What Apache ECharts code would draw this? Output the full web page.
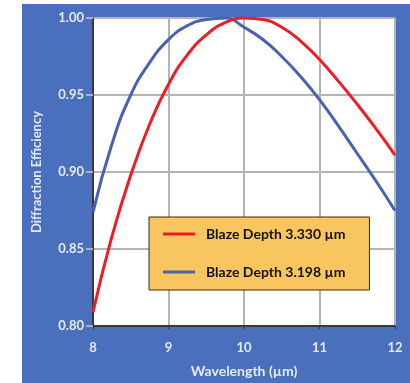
<!DOCTYPE html>
<html>
<head>
<meta charset="utf-8">
<script src="https://cdn.jsdelivr.net/npm/echarts@6/dist/echarts.min.js"></script>
<style>
html, body { margin: 0; padding: 0; background: #fff; }
#chart { width: 410px; height: 383px; }
</style>
</head>
<body>
<div id="chart"></div>
<script>
// wavelength samples (um)
var wavelengths = [8.0, 8.25, 8.5, 8.75, 9.0, 9.25, 9.5, 9.75, 10.0, 10.25, 10.5, 10.75, 11.0, 11.25, 11.5, 11.75, 12.0];
// blaze depth 3.330 um
var depth3330 = [0.809, 0.858, 0.898, 0.931, 0.957, 0.976, 0.989, 0.997, 1.000, 0.999, 0.994, 0.985, 0.973, 0.959, 0.944, 0.928, 0.911];
// blaze depth 3.198 um
var depth3198 = [0.874, 0.918, 0.950, 0.971, 0.986, 0.995, 0.999, 1.000, 0.994, 0.986, 0.975, 0.962, 0.947, 0.930, 0.912, 0.894, 0.875];
var seriesNames = ['Blaze Depth 3.330 µm', 'Blaze Depth 3.198 µm'];

function pairs(xs, ys) {
    var out = [];
    for (var i = 0; i < xs.length; i++) {
        out.push([xs[i], ys[i]]);
    }
    return out;
}

var myChart = echarts.init(document.getElementById('chart'));
var labelColor = '#e4ebf7';
var font = 'Lato, "DejaVu Sans", sans-serif';

var option = {
    animation: false,
    textStyle: { fontFamily: font },
    graphic: [{
        type: 'rect',
        z: -10,
        shape: { x: 22, y: 4, width: 388, height: 379 },
        style: { fill: '#4a6fbd' }
    }],
    grid: {
        left: 93, top: 18, right: 15, bottom: 56,
        show: true,
        backgroundColor: '#fff',
        borderColor: '#333',
        borderWidth: 1
    },
    legend: {
        left: 149, top: 217,
        orient: 'vertical',
        data: seriesNames,
        backgroundColor: '#f9c55f',
        borderColor: '#3a2a10',
        borderWidth: 1,
        padding: [10, 24, 11, 14],
        itemGap: 24,
        itemWidth: 32,
        itemHeight: 3,
        icon: 'rect',
        textStyle: {
            fontFamily: font,
            fontWeight: 'bold',
            fontSize: 14,
            color: '#111',
            padding: [0, 0, 0, 6]
        }
    },
    xAxis: {
        type: 'value',
        min: 8, max: 12, interval: 1,
        name: 'Wavelength (µm)',
        nameLocation: 'middle',
        nameGap: 38,
        nameTextStyle: { color: labelColor, fontSize: 14, fontWeight: 'bold' },
        axisLine: { show: true, onZero: false, lineStyle: { color: '#111', width: 1.5 } },
        axisTick: { show: true, length: 3, lineStyle: { color: '#333' } },
        axisLabel: { color: labelColor, fontSize: 13, fontWeight: 'bold', margin: 15 },
        splitLine: { show: true, lineStyle: { color: '#b4b4b4', width: 2 } }
    },
    yAxis: {
        type: 'value',
        min: 0.8, max: 1.0, interval: 0.05,
        name: 'Diffraction Efficiency',
        nameLocation: 'middle',
        nameGap: 50,
        nameTextStyle: { color: labelColor, fontSize: 13, fontWeight: 'bold' },
        axisLine: { show: true, lineStyle: { color: '#111', width: 1.5 } },
        axisTick: { show: true, length: 7, lineStyle: { color: '#c8c8c8', width: 1.5 } },
        axisLabel: {
            color: labelColor, fontSize: 13, fontWeight: 'bold', margin: 9,
            formatter: function (v) { return v.toFixed(2); }
        },
        splitLine: { show: true, lineStyle: { color: '#b4b4b4', width: 2 } }
    },
    series: [
        {
            name: seriesNames[0],
            type: 'line',
            smooth: 0.5,
            symbol: 'none',
            data: pairs(wavelengths, depth3330),
            lineStyle: { color: '#ee1c24', width: 3 },
            itemStyle: { color: '#ee1c24' },
            z: 3
        },
        {
            name: seriesNames[1],
            type: 'line',
            smooth: 0.5,
            symbol: 'none',
            data: pairs(wavelengths, depth3198),
            lineStyle: { color: '#4a62ae', width: 3 },
            itemStyle: { color: '#4a62ae' },
            z: 2
        }
    ]
};
myChart.setOption(option);
</script>
</body>
</html>
